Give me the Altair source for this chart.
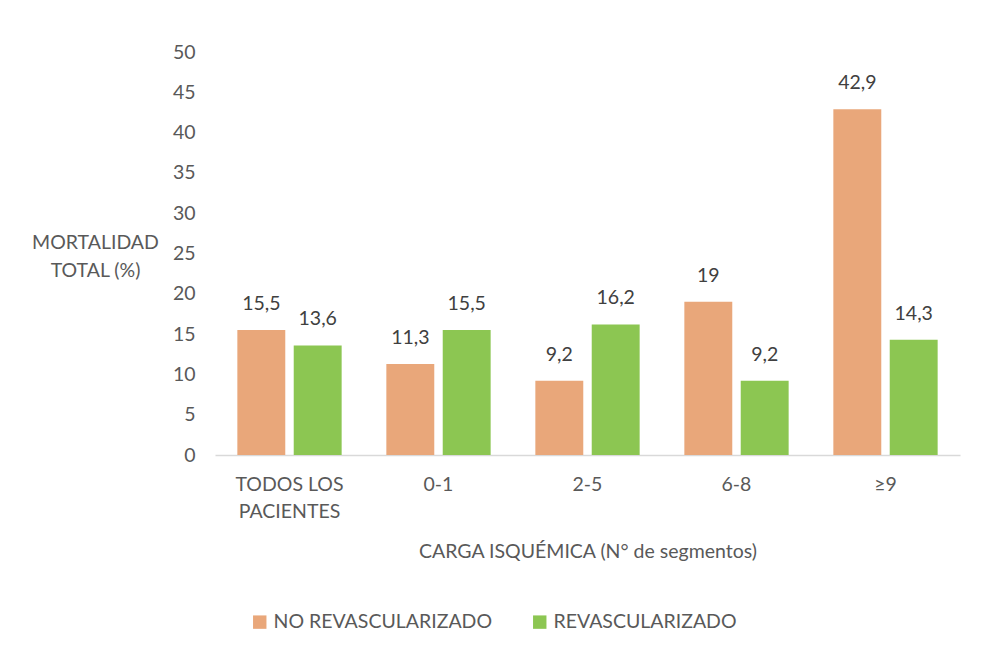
import altair as alt
import pandas as pd

categories = ["TODOS LOS PACIENTES", "0-1", "2-5", "6-8", "≥9"]
series = ["NO REVASCULARIZADO", "REVASCULARIZADO"]
no_revasc = [15.5, 11.3, 9.2, 19, 42.9]
revasc = [13.6, 15.5, 16.2, 9.2, 14.3]
colors = ["#E9A77A", "#8CC652"]

rows = []
for c, a, b in zip(categories, no_revasc, revasc):
    rows.append({"cat": c, "serie": series[0], "v": a})
    rows.append({"cat": c, "serie": series[1], "v": b})
df = pd.DataFrame(rows)

FONT = "Lato"
GREY = "#595959"
FS = 19.5

x = alt.X("cat:N", sort=categories, title="CARGA ISQUÉMICA (N° de segmentos)",
          scale=alt.Scale(paddingInner=0.3, paddingOuter=0.15),
          axis=alt.Axis(labelAngle=0, labelExpr="datum.value == 'TODOS LOS PACIENTES' ? ['TODOS LOS', 'PACIENTES'] : datum.value",
                        ticks=False, domainColor="#D9D9D9", domainWidth=1.5,
                        labelPadding=20, labelLineHeight=27, titlePadding=22,
                        labelFont=FONT, labelFontSize=FS, labelColor=GREY,
                        titleFont=FONT, titleFontSize=FS, titleColor=GREY, titleFontWeight="normal"))
xo = alt.XOffset("serie:N", sort=series, scale=alt.Scale(paddingInner=0.15))
y = alt.Y("v:Q", title=["MORTALIDAD", "TOTAL (%)"],
          scale=alt.Scale(domain=[0, 50]),
          axis=alt.Axis(values=list(range(0, 55, 5)), grid=False, domain=False, ticks=False,
                        labelPadding=20, labelFont=FONT, labelFontSize=FS, labelColor=GREY,
                        titleFont=FONT, titleFontSize=FS, titleColor=GREY, titleFontWeight="normal",
                        titleAngle=0, titleX=-120, titleY=190, titleAlign="center",
                        titleBaseline="middle", titleLineHeight=28))
color = alt.Color("serie:N", sort=series, scale=alt.Scale(domain=series, range=colors),
                  legend=alt.Legend(title=None, orient="none", direction="horizontal",
                                    legendX=35, legendY=560, symbolType="square", symbolSize=180,
                                    symbolStrokeWidth=0, labelFont=FONT, labelFontSize=FS,
                                    labelColor=GREY, columnPadding=37, labelOffset=4, labelLimit=400))

bars = alt.Chart(df).mark_bar().encode(x=x, xOffset=xo, y=y, color=color)
labels = alt.Chart(df).transform_calculate(
    lab="replace(toString(datum.v), '.', ',')"
).mark_text(baseline="bottom", dy=-16, font=FONT, fontSize=FS, color="#404040").encode(
    x=alt.X("cat:N", sort=categories), xOffset=xo, y="v:Q", text="lab:N")

chart = alt.layer(bars, labels).properties(
    width=745, height=403,
    background="white",
    autosize=alt.AutoSizeParams(type="none"),
    padding={"left": 215, "top": 52, "right": 40, "bottom": 202},
).configure_view(strokeWidth=0, stroke="transparent")

chart.save("out.html", embed_options={"renderer": "svg", "actions": False})
